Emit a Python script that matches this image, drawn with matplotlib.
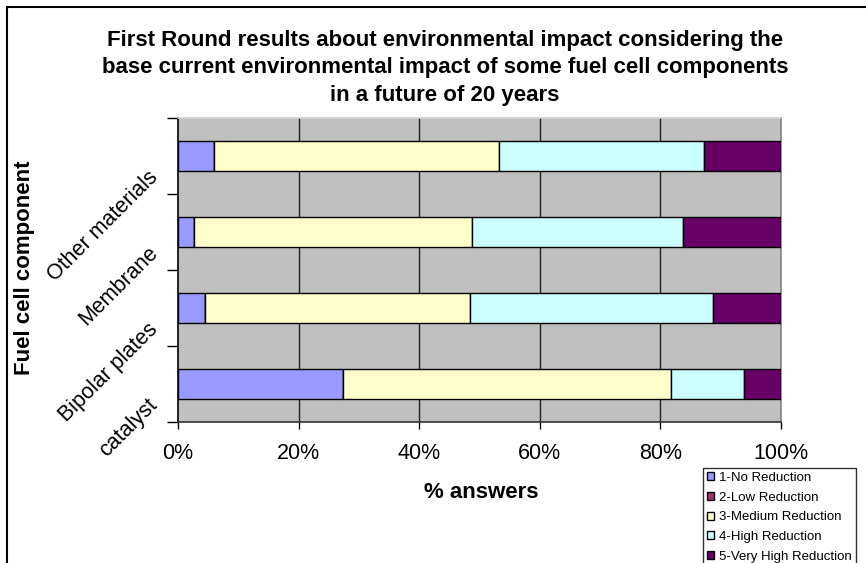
import matplotlib
matplotlib.use("Agg")
import matplotlib.pyplot as plt
import matplotlib.transforms as mtransforms
from matplotlib.patches import Rectangle
from matplotlib.ticker import FuncFormatter
import numpy as np

plt.rcParams['font.family'] = ['Liberation Sans', 'DejaVu Sans']

title = ("First Round results about environmental impact considering the\n"
         "base current environmental impact of some fuel cell components\n"
         "in a future of 20 years")
categories = ['catalyst', 'Bipolar plates', 'Membrane', 'Other materials']
series_names = ['1-No Reduction', '2-Low Reduction', '3-Medium Reduction',
                '4-High Reduction', '5-Very High Reduction']
no_reduction = [27.3, 4.5, 2.7, 5.9]
low_reduction = [0.0, 0.0, 0.0, 0.0]
medium_reduction = [54.5, 43.9, 46.0, 47.4]
high_reduction = [12.1, 40.4, 35.0, 33.9]
very_high_reduction = [6.1, 11.2, 16.3, 12.8]
x_ticks = [0, 20, 40, 60, 80, 100]

colors = ['#9999FF', '#993366', '#FFFFCC', '#CCFFFF', '#660066']

W, H = 866, 563
fig = plt.figure(figsize=(W / 100, H / 100), dpi=100)
ax = fig.add_axes([178 / W, 1 - 422 / H, (781 - 178) / W, (422 - 118) / H])
ax.set_facecolor('#C0C0C0')

y = np.arange(len(categories)) + 0.5
left = np.zeros(len(categories))
handles = []
for name, vals, col in zip(series_names,
                           [no_reduction, low_reduction, medium_reduction,
                            high_reduction, very_high_reduction], colors):
    b = ax.barh(y, vals, left=left, height=0.4, color=col,
                edgecolor='black', linewidth=1.0, label=name, zorder=3)
    handles.append(b)
    left = left + np.array(vals)

ax.set_xlim(0, 100)
ax.set_ylim(0, len(categories))
ax.set_xticks(x_ticks)
ax.xaxis.set_major_formatter(FuncFormatter(lambda v, p: f'{v:.0f}%'))
ax.tick_params(axis='x', length=5, width=1, direction='out', labelsize=15.5,
               pad=10, colors='black')

# category boundaries carry the tick marks, centres carry the labels
ax.set_yticks(np.arange(len(categories) + 1))
ax.set_yticklabels([])
ax.set_yticks(y, minor=True)
ax.set_yticklabels(categories, minor=True, rotation=45, ha='right',
                   va='center', rotation_mode='anchor', fontsize=15.5)
ax.tick_params(axis='y', which='major', length=8, width=1, direction='out')
ax.tick_params(axis='y', which='minor', length=0, pad=17)
offset = mtransforms.ScaledTranslation(0, -18 / 100, fig.dpi_scale_trans)
for lab in ax.get_yticklabels(minor=True):
    lab.set_transform(lab.get_transform() + offset)

for gx in [20, 40, 60, 80]:
    ax.axvline(gx, color='#202020', linewidth=1.0, zorder=1)
ax.spines['top'].set_color('#D0D0D0')
ax.spines['right'].set_color('#808080')
ax.spines['left'].set_color('black')
ax.spines['bottom'].set_color('#303030')
for s in ax.spines.values():
    s.set_linewidth(1.2)

fig.text(481 / W, 1 - 493 / H, '% answers', ha='center', va='center',
         fontsize=16, fontweight='bold')
fig.text(25 / W, 1 - 268 / H, 'Fuel cell component', ha='center',
         va='center', rotation=90, fontsize=16, fontweight='bold')

fig.text(445 / W, 1 - 68 / H, title, ha='center', va='center', fontsize=16,
         fontweight='bold', linespacing=1.4)

leg = fig.legend(handles=handles, loc='upper left',
                 bbox_to_anchor=(703 / W, 1 - 468 / H), fontsize=9.5,
                 frameon=True, fancybox=False, edgecolor='black',
                 handlelength=0.55, handleheight=0.55, handletextpad=0.35,
                 borderpad=0.3, labelspacing=0.58, borderaxespad=0)
leg.get_frame().set_linewidth(1.0)

# chart-area border (left and top edges)
fig.add_artist(Rectangle((7.5 / W, -0.1), 2, 1.1 - 7.5 / H,
                         transform=fig.transFigure, fill=False,
                         edgecolor='black', linewidth=1.5))

fig.savefig('out.png', dpi=100)
